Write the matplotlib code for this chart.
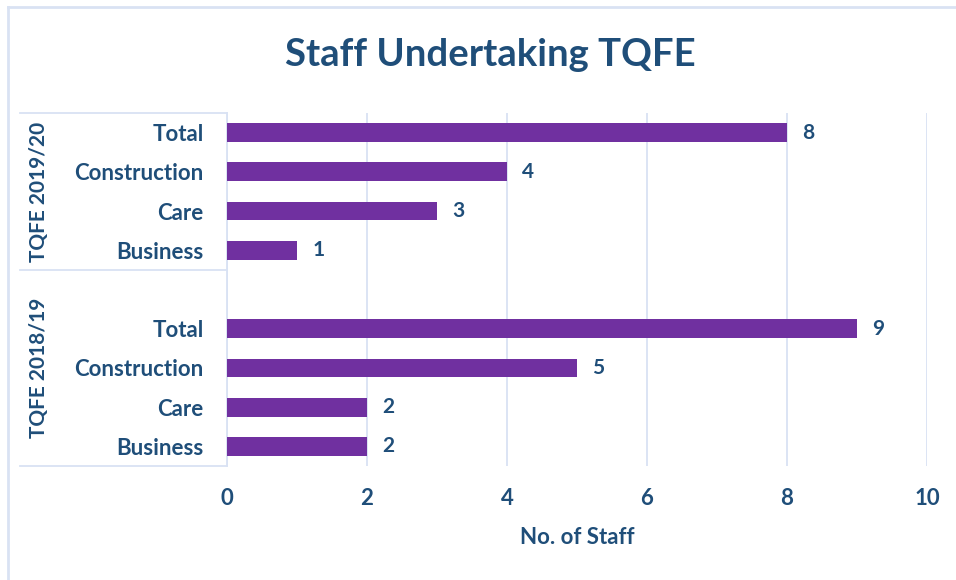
import matplotlib.pyplot as plt
from matplotlib.lines import Line2D
import matplotlib.transforms as mtransforms

# Data
groups = ['TQFE 2019/20', 'TQFE 2018/19']
categories = ['Total', 'Construction', 'Care', 'Business']
values_1920 = [8, 4, 3, 1]
values_1819 = [9, 5, 2, 2]
x_ticks = [0, 2, 4, 6, 8, 10]

bar_color = '#7030A0'
text_color = '#1F4E79'
grid_color = '#D9E2F3'

plt.rcParams['font.family'] = ['Lato', 'DejaVu Sans']

fig = plt.figure(figsize=(9.56, 5.8), dpi=100)
ax = fig.add_axes([227 / 956, 1 - 466 / 580, 700 / 956, 353 / 580])

# slots: group 1 at 0-3, blank slot 4, group 2 at 5-8
pos_1920 = [0, 1, 2, 3]
pos_1819 = [5, 6, 7, 8]
ax.barh(pos_1920, values_1920, height=0.48, color=bar_color, zorder=3)
ax.barh(pos_1819, values_1819, height=0.48, color=bar_color, zorder=3)

for p, v in zip(pos_1920 + pos_1819, values_1920 + values_1819):
    ax.text(v + 0.22, p, str(v), va='center', ha='left', fontsize=15,
            fontweight='bold', color=text_color)

ax.set_ylim(8.5, -0.5)
ax.set_xlim(0, 10)
ax.set_xticks(x_ticks)
ax.set_yticks(pos_1920 + pos_1819)
ax.set_yticklabels(categories + categories)
ax.tick_params(axis='y', length=0, pad=17, labelsize=16, labelcolor=text_color)
ax.tick_params(axis='x', length=0, pad=16, labelsize=16, labelcolor=text_color)
for lbl in ax.get_xticklabels() + ax.get_yticklabels():
    lbl.set_fontweight('bold')

ax.grid(axis='x', color=grid_color, linewidth=1.3, zorder=0)
for s in ['top', 'right', 'bottom']:
    ax.spines[s].set_visible(False)
ax.spines['left'].set_color(grid_color)
ax.spines['left'].set_linewidth(1.3)

ax.set_xlabel('No. of Staff', fontsize=16, fontweight='bold', color=text_color, labelpad=13)

# multi-level category box
trans = mtransforms.blended_transform_factory(ax.transAxes, ax.transData)
x0 = (20 - 227) / 700
for yb in [-0.5, 3.5, 8.5]:
    ax.add_line(Line2D([x0, 0], [yb, yb], transform=trans, color=grid_color,
                       linewidth=1.3, clip_on=False))
gx = (39 - 227) / 700
ax.text(gx, 1.5, groups[0], transform=trans, rotation=90, ha='center', va='center',
        fontsize=15, fontweight='bold', color=text_color)
ax.text(gx, 6.0, groups[1], transform=trans, rotation=90, ha='center', va='center',
        fontsize=15, fontweight='bold', color=text_color)

fig.suptitle('Staff Undertaking TQFE', x=0.513, y=1 - 55 / 580, va='center',
             fontsize=27.5, fontweight='bold', color=text_color)

# outer frame (top and left visible)
fig.add_artist(Line2D([8 / 956, 1], [1 - 7 / 580, 1 - 7 / 580], transform=fig.transFigure,
                      color=grid_color, linewidth=2))
fig.add_artist(Line2D([8 / 956, 8 / 956], [0, 1 - 7 / 580], transform=fig.transFigure,
                      color=grid_color, linewidth=2))

fig.savefig('out.png', dpi=100)
